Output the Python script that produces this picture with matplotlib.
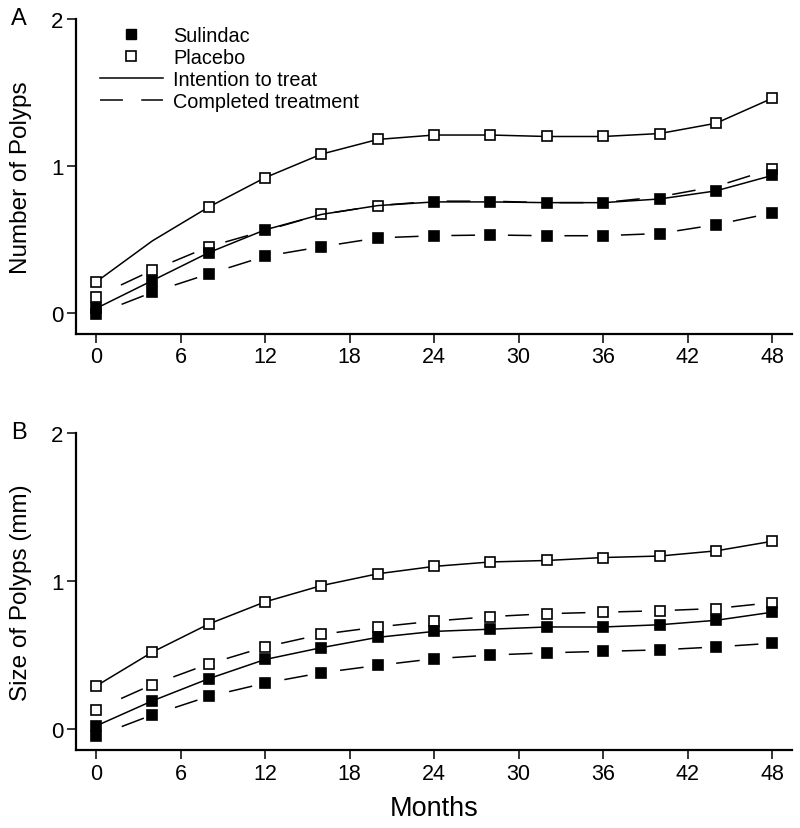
import matplotlib
matplotlib.use('Agg')
import matplotlib.pyplot as plt
from matplotlib.lines import Line2D
from matplotlib.legend_handler import HandlerLine2D

plt.rcParams['font.family'] = ['Liberation Sans', 'DejaVu Sans']

months = [0, 4, 8, 12, 16, 20, 24, 28, 32, 36, 40, 44, 48]
x_ticks = [0, 6, 12, 18, 24, 30, 36, 42, 48]
y_ticks = [0, 1, 2]

# Panel A: number of polyps
count_placebo_itt = [0.21, 0.49, 0.72, 0.92, 1.08, 1.18, 1.21, 1.21, 1.20, 1.20, 1.22, 1.29, 1.46]
count_placebo_completed = [0.11, 0.29, 0.45, 0.56, 0.67, 0.73, 0.76, 0.76, 0.75, 0.75, 0.79, 0.86, 0.98]
count_sulindac_itt = [0.03, 0.22, 0.41, 0.565, 0.67, 0.73, 0.755, 0.755, 0.75, 0.75, 0.775, 0.83, 0.935]
count_sulindac_completed = [-0.01, 0.14, 0.265, 0.385, 0.45, 0.51, 0.525, 0.53, 0.525, 0.525, 0.54, 0.60, 0.68]

# Panel B: size of polyps (mm)
size_placebo_itt = [0.29, 0.52, 0.71, 0.86, 0.97, 1.05, 1.10, 1.13, 1.14, 1.16, 1.17, 1.205, 1.27]
size_placebo_completed = [0.13, 0.30, 0.44, 0.555, 0.64, 0.69, 0.73, 0.76, 0.78, 0.79, 0.80, 0.815, 0.855]
size_sulindac_itt = [0.02, 0.19, 0.34, 0.47, 0.55, 0.62, 0.66, 0.675, 0.69, 0.69, 0.705, 0.735, 0.79]
size_sulindac_completed = [-0.05, 0.095, 0.22, 0.31, 0.38, 0.43, 0.475, 0.50, 0.515, 0.525, 0.535, 0.555, 0.58]

LW = 1.1
MS = 6.5
DASHED = (19, (15.5, 21.5))


class RightMarker(HandlerLine2D):
    # put the legend marker at the right end of the handle, next to the text
    def get_xdata(self, legend, xdescent, ydescent, width, height, fontsize):
        return [-xdescent, -xdescent + width], [-xdescent + width - 2.5]


def draw_series(ax, values, filled, dashed, shown):
    face = 'black' if filled else 'white'
    ax.plot(months, values, color='black', lw=LW,
            ls=DASHED if dashed else '-',
            marker='s', ms=MS, mfc=face, mec='black', mew=1.2,
            markevery=shown)


def setup_axes(ax, ylabel):
    ax.set_xlim(-1.42, 49.4)
    ax.set_ylim(-0.143, 2)
    ax.spines['top'].set_visible(False)
    ax.spines['right'].set_visible(False)
    ax.spines['left'].set_linewidth(1.6)
    ax.spines['bottom'].set_linewidth(1.6)
    ax.set_xticks(x_ticks)
    ax.set_xticklabels([str(t) for t in x_ticks], fontsize=15.5)
    ax.set_yticks(y_ticks)
    ax.set_yticklabels([str(t) for t in y_ticks], fontsize=16)
    ax.tick_params(direction='out', length=6.5, width=1.1, pad=2.5)
    ax.set_ylabel(ylabel, fontsize=17.5)
    ax.yaxis.set_label_coords(-0.062, 0.5)


fig = plt.figure(figsize=(8, 8.29), dpi=100)
ax_a = fig.add_axes([0.095, 0.596, 0.895, 0.380])
ax_b = fig.add_axes([0.095, 0.094, 0.895, 0.382])

# Panel A
everything = list(range(len(months)))
draw_series(ax_a, count_placebo_itt, False, False, [i for i in everything if i != 1])
draw_series(ax_a, count_placebo_completed, False, True, [0, 1, 2, 4, 5, 12])
draw_series(ax_a, count_sulindac_itt, True, False, [i for i in everything if i not in (4, 5)])
draw_series(ax_a, count_sulindac_completed, True, True, everything)
setup_axes(ax_a, 'Number of Polyps')

# Panel B
draw_series(ax_b, size_placebo_itt, False, False, everything)
draw_series(ax_b, size_placebo_completed, False, True, everything)
draw_series(ax_b, size_sulindac_itt, True, False, everything)
draw_series(ax_b, size_sulindac_completed, True, True, everything)
setup_axes(ax_b, 'Size of Polyps (mm)')
ax_b.set_xlabel('Months', fontsize=19.5, labelpad=8)

# Legend
h_sul = Line2D([], [], ls='none', marker='s', ms=MS, mfc='black', mec='black')
h_pla = Line2D([], [], ls='none', marker='s', ms=MS, mfc='white', mec='black', mew=1.2)
h_itt = Line2D([], [], color='black', lw=LW)
h_comp = Line2D([], [], color='black', lw=LW, ls=(0, (15, 12)))
ax_a.legend([h_sul, h_pla, h_itt, h_comp],
            ['Sulindac', 'Placebo', 'Intention to treat', 'Completed treatment'],
            handler_map={h_sul: RightMarker(), h_pla: RightMarker()},
            loc='upper left', bbox_to_anchor=(0.0335, 0.978), frameon=False,
            fontsize=14.3, handlelength=3.15, handletextpad=0.55,
            labelspacing=0.15, borderpad=0, borderaxespad=0)

fig.text(0.024, 0.977, 'A', fontsize=17, ha='center', va='center')
fig.text(0.024, 0.478, 'B', fontsize=17, ha='center', va='center')

fig.savefig('out.png', dpi=100)
